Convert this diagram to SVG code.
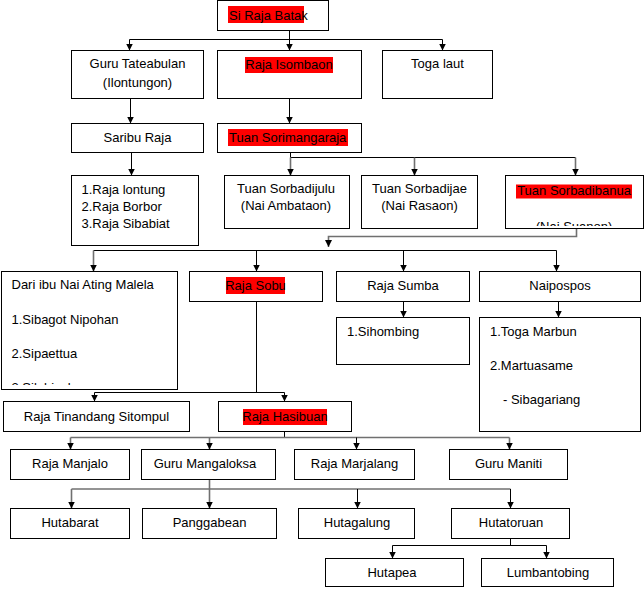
<svg xmlns="http://www.w3.org/2000/svg" width="644" height="589" viewBox="0 0 644 589">
<style>
.box{fill:#fff;stroke:#000;stroke-width:1}
.t{font-family:"Liberation Sans",Arial,sans-serif;font-size:13px;fill:#000}
.c{text-anchor:middle}
.hl{fill:#ff0000}
.k{fill:none;stroke:#000;stroke-width:1}
.g{fill:none;stroke:#707070;stroke-width:1.6}
.a{marker-end:url(#arr)}
</style>
<defs>
<marker id="arr" markerUnits="userSpaceOnUse" markerWidth="8" markerHeight="8" refX="7" refY="4" orient="auto">
<path d="M0,0.5 L7,4 L0,7.5 z" fill="#000"/>
</marker>
<clipPath id="cpBanua"><rect x="506" y="176" width="137" height="50"/></clipPath>
<clipPath id="cpDari"><rect x="2" y="272" width="175" height="113"/></clipPath>
</defs>

<g id="connectors">
<path class="k" d="M289.5,30.5 V39.5 M129.5,39.5 H442.5"/>
<path class="k a" d="M129.5,39.5 V50.5"/>
<path class="k a" d="M289.5,39.5 V50.5"/>
<path class="k a" d="M442.5,39.5 V50.5"/>
<path class="k a" d="M130.5,98.5 V123.5"/>
<path class="k a" d="M289.5,98.5 V123.5"/>
<path class="k a" d="M131.5,152.5 V175.5"/>
<path class="k" d="M290.5,152.5 V157.5 H575.5"/>
<path class="g a" d="M290.5,157.5 V175.5"/>
<path class="g a" d="M414.5,157.5 V175.5"/>
<path class="g a" d="M575.5,157.5 V175.5"/>
<path class="g a" d="M576.5,228.5 V236.5 H328.5 V247"/>
<path class="k" d="M93.5,250.5 H556.5"/>
<path class="g a" d="M93.5,250.5 V271.5"/>
<path class="k a" d="M256.5,250.5 V271.5"/>
<path class="k a" d="M403.5,250.5 V271.5"/>
<path class="k a" d="M556.5,250.5 V271.5"/>
<path class="k a" d="M403.5,301.5 V317.5"/>
<path class="k a" d="M558.5,301.5 V317.5"/>
<path class="k" d="M256.5,301.5 V392.5 M94.5,392.5 H284.5"/>
<path class="k a" d="M94.5,392.5 V401.5"/>
<path class="k a" d="M284.5,392.5 V401.5"/>
<path class="k" d="M284.5,431.5 V437.5"/>
<path class="g" d="M70.5,437.5 H509.5"/>
<path class="g a" d="M70.5,437.5 V449.5"/>
<path class="g a" d="M209.5,437.5 V449.5"/>
<path class="k a" d="M356.5,437.5 V449.5"/>
<path class="g a" d="M509.5,437.5 V449.5"/>
<path class="g" d="M71.5,489 H510.5"/>
<path class="g a" d="M209.5,479.5 V508.5"/>
<path class="g a" d="M71.5,489 V508.5"/>
<path class="k a" d="M357.5,489 V508.5"/>
<path class="k a" d="M510.5,489 V508.5"/>
<path class="k" d="M510.5,538.5 V545.5 M392.5,545.5 H546.5"/>
<path class="k a" d="M392.5,545.5 V558.5"/>
<path class="k a" d="M546.5,545.5 V558.5"/>
</g>

<g id="n-si-raja-batak">
<rect class="box" x="217.5" y="0.5" width="111" height="30"/>
<rect class="hl" x="228" y="6" width="76" height="17"/>
<text class="t" x="229" y="19.5">Si Raja Batak</text>
</g>
<g id="n-guru-tateabulan">
<rect class="box" x="71.5" y="50.5" width="132" height="48"/>
<text class="t c" x="137.5" y="68">Guru Tateabulan</text>
<text class="t c" x="137.5" y="87">(Ilontungon)</text>
</g>
<g id="n-raja-isombaon">
<rect class="box" x="217.5" y="50.5" width="144" height="48"/>
<rect class="hl" x="245" y="57" width="88" height="16"/>
<text class="t c" x="289" y="69">Raja Isombaon</text>
</g>
<g id="n-toga-laut">
<rect class="box" x="382.5" y="50.5" width="110" height="48"/>
<text class="t c" x="437.5" y="68">Toga laut</text>
</g>
<g id="n-saribu-raja">
<rect class="box" x="71.5" y="123.5" width="132" height="29"/>
<text class="t c" x="137.5" y="142">Saribu Raja</text>
</g>
<g id="n-tuan-sorimangaraja">
<rect class="box" x="217.5" y="123.5" width="144" height="29"/>
<rect class="hl" x="228" y="129" width="120" height="17"/>
<text class="t" x="229" y="142">Tuan Sorimangaraja</text>
</g>
<g id="n-saribu-list">
<rect class="box" x="71.5" y="175.5" width="127" height="70"/>
<text class="t" x="81.5" y="194">1.Raja lontung</text>
<text class="t" x="81.5" y="211">2.Raja Borbor</text>
<text class="t" x="81.5" y="228">3.Raja Sibabiat</text>
</g>
<g id="n-tuan-sorbadijulu">
<rect class="box" x="224.5" y="175.5" width="125" height="53"/>
<text class="t c" x="286" y="193">Tuan Sorbadijulu</text>
<text class="t c" x="286" y="210">(Nai Ambataon)</text>
</g>
<g id="n-tuan-sorbadijae">
<rect class="box" x="361.5" y="175.5" width="116" height="53"/>
<text class="t c" x="419.5" y="193">Tuan Sorbadijae</text>
<text class="t c" x="419.5" y="210">(Nai Rasaon)</text>
</g>
<g id="n-tuan-sorbadibanua">
<rect class="box" x="505.5" y="175.5" width="138" height="53"/>
<rect class="hl" x="516" y="184.5" width="116" height="14"/>
<text class="t c" x="574" y="195">Tuan Sorbadibanua</text>
<text class="t c" x="574" y="231" clip-path="url(#cpBanua)">(Nai Suanon)</text>
</g>
<g id="n-dari-ibu">
<rect class="box" x="1.5" y="271.5" width="176" height="118"/>
<text class="t" x="11.5" y="289">Dari ibu Nai Ating Malela</text>
<text class="t" x="11.5" y="324">1.Sibagot Nipohan</text>
<text class="t" x="11.5" y="358">2.Sipaettua</text>
<text class="t" x="11.5" y="392" clip-path="url(#cpDari)">3.Silahisabungan</text>
</g>
<g id="n-raja-sobu">
<rect class="box" x="189.5" y="271.5" width="133" height="30"/>
<rect class="hl" x="226" y="277" width="59" height="17"/>
<text class="t c" x="255.5" y="289.5">Raja Sobu</text>
</g>
<g id="n-raja-sumba">
<rect class="box" x="336.5" y="271.5" width="133" height="30"/>
<text class="t c" x="403" y="289.5">Raja Sumba</text>
</g>
<g id="n-naipospos">
<rect class="box" x="479.5" y="271.5" width="161" height="30"/>
<text class="t c" x="560" y="289.5">Naipospos</text>
</g>
<g id="n-sihombing">
<rect class="box" x="336.5" y="317.5" width="133" height="47"/>
<text class="t" x="347" y="336">1.Sihombing</text>
</g>
<g id="n-naipospos-list">
<rect class="box" x="479.5" y="317.5" width="161" height="114"/>
<text class="t" x="490" y="336">1.Toga Marbun</text>
<text class="t" x="490" y="370">2.Martuasame</text>
<text class="t" x="503" y="404">- Sibagariang</text>
</g>
<g id="n-raja-tinandang">
<rect class="box" x="3.5" y="401.5" width="186" height="30"/>
<text class="t c" x="96.5" y="420.5">Raja Tinandang Sitompul</text>
</g>
<g id="n-raja-hasibuan">
<rect class="box" x="218.5" y="401.5" width="133" height="30"/>
<rect class="hl" x="243" y="409" width="84" height="16"/>
<text class="t c" x="285" y="421">Raja Hasibuan</text>
</g>
<g id="n-raja-manjalo">
<rect class="box" x="10.5" y="449.5" width="119" height="30"/>
<text class="t c" x="70" y="468">Raja Manjalo</text>
</g>
<g id="n-guru-mangaloksa">
<rect class="box" x="141.5" y="449.5" width="134" height="30"/>
<text class="t c" x="205" y="468">Guru Mangaloksa</text>
</g>
<g id="n-raja-marjalang">
<rect class="box" x="294.5" y="449.5" width="120" height="30"/>
<text class="t c" x="354.5" y="468">Raja Marjalang</text>
</g>
<g id="n-guru-maniti">
<rect class="box" x="449.5" y="449.5" width="118" height="30"/>
<text class="t c" x="508.5" y="468">Guru Maniti</text>
</g>
<g id="n-hutabarat">
<rect class="box" x="10.5" y="508.5" width="119" height="30"/>
<text class="t c" x="70" y="527">Hutabarat</text>
</g>
<g id="n-panggabean">
<rect class="box" x="142.5" y="508.5" width="134" height="30"/>
<text class="t c" x="209.5" y="527">Panggabean</text>
</g>
<g id="n-hutagalung">
<rect class="box" x="298.5" y="508.5" width="116" height="30"/>
<text class="t c" x="357" y="527">Hutagalung</text>
</g>
<g id="n-hutatoruan">
<rect class="box" x="451.5" y="508.5" width="118" height="30"/>
<text class="t c" x="511" y="527">Hutatoruan</text>
</g>
<g id="n-hutapea">
<rect class="box" x="325.5" y="558.5" width="138" height="28"/>
<text class="t c" x="392" y="577">Hutapea</text>
</g>
<g id="n-lumbantobing">
<rect class="box" x="481.5" y="558.5" width="132" height="28"/>
<text class="t c" x="548" y="577">Lumbantobing</text>
</g>
</svg>
